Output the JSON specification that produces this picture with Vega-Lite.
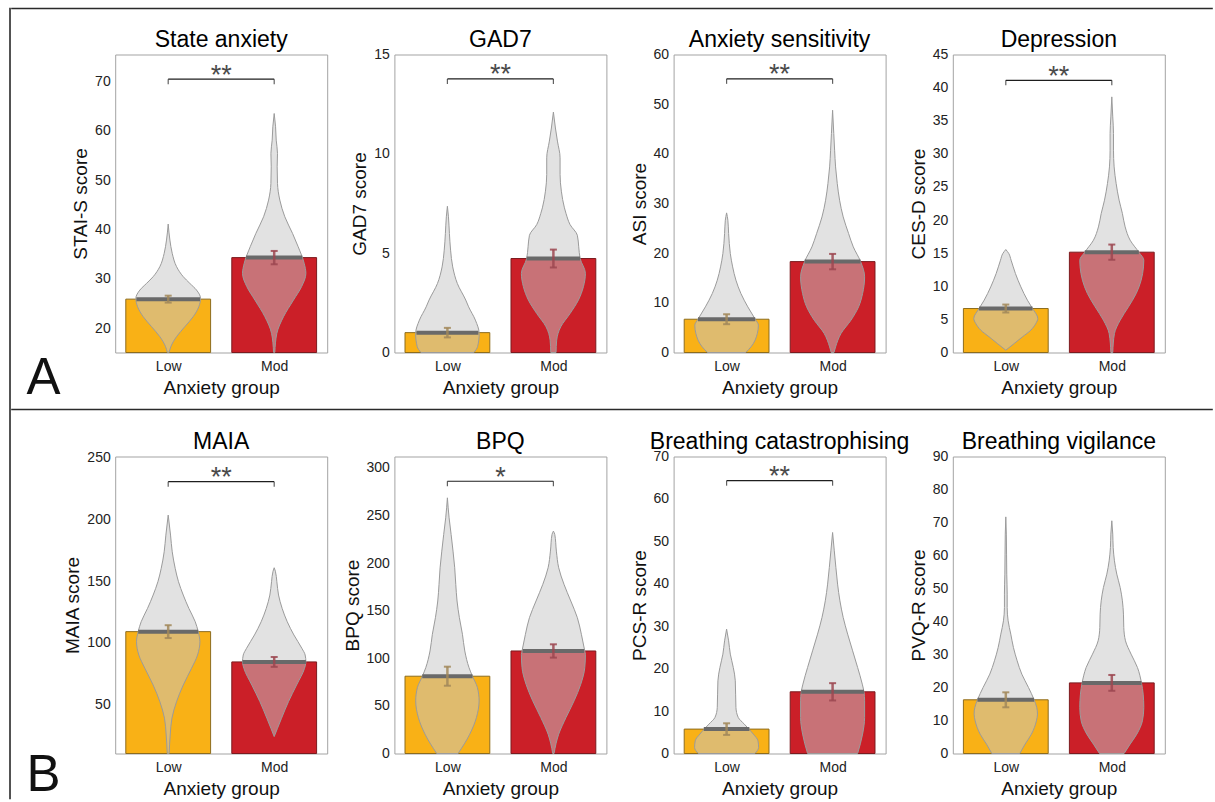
{
"$schema":"https://vega.github.io/schema/vega-lite/v6.json",
"usermeta":{"embedOptions":{"actions":false}},
"background":"white",
"padding":{"left":9,"top":7.5,"right":1,"bottom":0},
"config":{
 "font":"Liberation Sans",
 "view":{"stroke":"#a3a3a3","strokeWidth":1},
 "axis":{"domain":false,"ticks":false,"grid":false,"labelFontSize":14,"labelColor":"#222222","labelFont":"Liberation Sans","titleFont":"Liberation Sans","titleFontSize":19,"titleFontWeight":"normal","titleColor":"#111111","labelFlush":false,"labelOverlap":false},
 "axisX":{"labelPadding":7.3,"titlePadding":4.7,"labelAngle":0},
 "axisY":{"labelPadding":5,"titlePadding":4},
 "title":{"font":"Liberation Sans","fontSize":23,"fontWeight":"normal","color":"#000000","baseline":"bottom","frame":"group","anchor":"middle"}
},
"datasets":{"all":[
{"p":"State anxiety","k":"s","g":"Low","m":25.9,"se":0.7,"dw":0.3},
{"p":"State anxiety","k":"s","g":"Mod","m":34.3,"se":1.35,"dw":0.265},
{"p":"GAD7","k":"s","g":"Low","m":1.0,"se":0.24,"dw":0.292},
{"p":"GAD7","k":"s","g":"Mod","m":4.73,"se":0.45,"dw":0.252},
{"p":"Anxiety sensitivity","k":"s","g":"Low","m":6.7,"se":1.0,"dw":0.27},
{"p":"Anxiety sensitivity","k":"s","g":"Mod","m":18.3,"se":1.55,"dw":0.264},
{"p":"Depression","k":"s","g":"Low","m":6.64,"se":0.6,"dw":0.252},
{"p":"Depression","k":"s","g":"Mod","m":15.15,"se":1.15,"dw":0.255},
{"p":"MAIA","k":"s","g":"Low","m":109.1,"se":5.2,"dw":0.283},
{"p":"MAIA","k":"s","g":"Mod","m":84.6,"se":4.0,"dw":0.299},
{"p":"BPQ","k":"s","g":"Low","m":81.2,"se":10.0,"dw":0.237},
{"p":"BPQ","k":"s","g":"Mod","m":107.7,"se":7.0,"dw":0.29},
{"p":"Breathing catastrophising","k":"s","g":"Low","m":5.75,"se":1.37,"dw":0.215},
{"p":"Breathing catastrophising","k":"s","g":"Mod","m":14.54,"se":2.04,"dw":0.296},
{"p":"Breathing vigilance","k":"s","g":"Low","m":16.27,"se":2.27,"dw":0.267},
{"p":"Breathing vigilance","k":"s","g":"Mod","m":21.4,"se":2.4,"dw":0.28},
{"p":"State anxiety","k":"b","g":"Low","y":70.4,"s":"**"},
{"p":"GAD7","k":"b","g":"Low","y":13.77,"s":"**"},
{"p":"Anxiety sensitivity","k":"b","g":"Low","y":55.1,"s":"**"},
{"p":"Depression","k":"b","g":"Low","y":41.1,"s":"**"},
{"p":"MAIA","k":"b","g":"Low","y":230.4,"s":"**"},
{"p":"BPQ","k":"b","g":"Low","y":286,"s":"*"},
{"p":"Breathing catastrophising","k":"b","g":"Low","y":64.3,"s":"**"},
{"p":"State anxiety","k":"v","g":"Low","y":15.14,"w":0.009},
{"p":"State anxiety","k":"v","g":"Low","y":16.29,"w":0.025},
{"p":"State anxiety","k":"v","g":"Low","y":18.31,"w":0.079},
{"p":"State anxiety","k":"v","g":"Low","y":20.33,"w":0.157},
{"p":"State anxiety","k":"v","g":"Low","y":22.35,"w":0.236},
{"p":"State anxiety","k":"v","g":"Low","y":24.37,"w":0.289},
{"p":"State anxiety","k":"v","g":"Low","y":26.06,"w":0.305},
{"p":"State anxiety","k":"v","g":"Low","y":27.74,"w":0.267},
{"p":"State anxiety","k":"v","g":"Low","y":29.09,"w":0.204},
{"p":"State anxiety","k":"v","g":"Low","y":30.44,"w":0.142},
{"p":"State anxiety","k":"v","g":"Low","y":32.46,"w":0.079},
{"p":"State anxiety","k":"v","g":"Low","y":35.16,"w":0.038},
{"p":"State anxiety","k":"v","g":"Low","y":37.85,"w":0.016},
{"p":"State anxiety","k":"v","g":"Low","y":41.09,"w":0},
{"p":"State anxiety","k":"v","g":"Mod","y":15.14,"w":0.006},
{"p":"State anxiety","k":"v","g":"Mod","y":18.98,"w":0.025},
{"p":"State anxiety","k":"v","g":"Mod","y":22.35,"w":0.088},
{"p":"State anxiety","k":"v","g":"Mod","y":25.72,"w":0.182},
{"p":"State anxiety","k":"v","g":"Mod","y":28.42,"w":0.258},
{"p":"State anxiety","k":"v","g":"Mod","y":31.11,"w":0.299},
{"p":"State anxiety","k":"v","g":"Mod","y":33.14,"w":0.283},
{"p":"State anxiety","k":"v","g":"Mod","y":36.51,"w":0.226},
{"p":"State anxiety","k":"v","g":"Mod","y":39.2,"w":0.173},
{"p":"State anxiety","k":"v","g":"Mod","y":42.57,"w":0.1},
{"p":"State anxiety","k":"v","g":"Mod","y":45.94,"w":0.053},
{"p":"State anxiety","k":"v","g":"Mod","y":49.31,"w":0.031},
{"p":"State anxiety","k":"v","g":"Mod","y":52.68,"w":0.028},
{"p":"State anxiety","k":"v","g":"Mod","y":55.38,"w":0.031},
{"p":"State anxiety","k":"v","g":"Mod","y":58.07,"w":0.019},
{"p":"State anxiety","k":"v","g":"Mod","y":60.77,"w":0.013},
{"p":"State anxiety","k":"v","g":"Mod","y":63.46,"w":0},
{"p":"GAD7","k":"v","g":"Low","y":0,"w":0.25},
{"p":"GAD7","k":"v","g":"Low","y":0.3,"w":0.285},
{"p":"GAD7","k":"v","g":"Low","y":0.95,"w":0.3},
{"p":"GAD7","k":"v","g":"Low","y":1.63,"w":0.264},
{"p":"GAD7","k":"v","g":"Low","y":2.3,"w":0.2},
{"p":"GAD7","k":"v","g":"Low","y":2.64,"w":0.173},
{"p":"GAD7","k":"v","g":"Low","y":3.47,"w":0.094},
{"p":"GAD7","k":"v","g":"Low","y":4.31,"w":0.05},
{"p":"GAD7","k":"v","g":"Low","y":5.15,"w":0.03},
{"p":"GAD7","k":"v","g":"Low","y":5.99,"w":0.019},
{"p":"GAD7","k":"v","g":"Low","y":6.83,"w":0.01},
{"p":"GAD7","k":"v","g":"Low","y":7.36,"w":0},
{"p":"GAD7","k":"v","g":"Mod","y":0,"w":0.025},
{"p":"GAD7","k":"v","g":"Mod","y":0.62,"w":0.031},
{"p":"GAD7","k":"v","g":"Mod","y":1.29,"w":0.069},
{"p":"GAD7","k":"v","g":"Mod","y":1.96,"w":0.157},
{"p":"GAD7","k":"v","g":"Mod","y":2.64,"w":0.236},
{"p":"GAD7","k":"v","g":"Mod","y":3.31,"w":0.283},
{"p":"GAD7","k":"v","g":"Mod","y":3.98,"w":0.302},
{"p":"GAD7","k":"v","g":"Mod","y":4.73,"w":0.252},
{"p":"GAD7","k":"v","g":"Mod","y":5.32,"w":0.239},
{"p":"GAD7","k":"v","g":"Mod","y":5.9,"w":0.226},
{"p":"GAD7","k":"v","g":"Mod","y":6.44,"w":0.157},
{"p":"GAD7","k":"v","g":"Mod","y":7.0,"w":0.119},
{"p":"GAD7","k":"v","g":"Mod","y":7.28,"w":0.104},
{"p":"GAD7","k":"v","g":"Mod","y":8.12,"w":0.075},
{"p":"GAD7","k":"v","g":"Mod","y":8.96,"w":0.063},
{"p":"GAD7","k":"v","g":"Mod","y":9.8,"w":0.063},
{"p":"GAD7","k":"v","g":"Mod","y":10.64,"w":0.038},
{"p":"GAD7","k":"v","g":"Mod","y":11.3,"w":0.019},
{"p":"GAD7","k":"v","g":"Mod","y":12.1,"w":0},
{"p":"Anxiety sensitivity","k":"v","g":"Low","y":0,"w":0.18},
{"p":"Anxiety sensitivity","k":"v","g":"Low","y":1.13,"w":0.23},
{"p":"Anxiety sensitivity","k":"v","g":"Low","y":3.82,"w":0.29},
{"p":"Anxiety sensitivity","k":"v","g":"Low","y":5.5,"w":0.3},
{"p":"Anxiety sensitivity","k":"v","g":"Low","y":6.7,"w":0.27},
{"p":"Anxiety sensitivity","k":"v","g":"Low","y":9.19,"w":0.2},
{"p":"Anxiety sensitivity","k":"v","g":"Low","y":11.87,"w":0.135},
{"p":"Anxiety sensitivity","k":"v","g":"Low","y":14.56,"w":0.088},
{"p":"Anxiety sensitivity","k":"v","g":"Low","y":17.24,"w":0.057},
{"p":"Anxiety sensitivity","k":"v","g":"Low","y":19.93,"w":0.035},
{"p":"Anxiety sensitivity","k":"v","g":"Low","y":23.95,"w":0.019},
{"p":"Anxiety sensitivity","k":"v","g":"Low","y":26.64,"w":0.012},
{"p":"Anxiety sensitivity","k":"v","g":"Low","y":28.11,"w":0},
{"p":"Anxiety sensitivity","k":"v","g":"Mod","y":0,"w":0.013},
{"p":"Anxiety sensitivity","k":"v","g":"Mod","y":1.13,"w":0.028},
{"p":"Anxiety sensitivity","k":"v","g":"Mod","y":3.82,"w":0.079},
{"p":"Anxiety sensitivity","k":"v","g":"Mod","y":6.5,"w":0.173},
{"p":"Anxiety sensitivity","k":"v","g":"Mod","y":9.19,"w":0.245},
{"p":"Anxiety sensitivity","k":"v","g":"Mod","y":11.87,"w":0.283},
{"p":"Anxiety sensitivity","k":"v","g":"Mod","y":15.23,"w":0.302},
{"p":"Anxiety sensitivity","k":"v","g":"Mod","y":18.31,"w":0.264},
{"p":"Anxiety sensitivity","k":"v","g":"Mod","y":21.27,"w":0.195},
{"p":"Anxiety sensitivity","k":"v","g":"Mod","y":23.95,"w":0.151},
{"p":"Anxiety sensitivity","k":"v","g":"Mod","y":27.3,"w":0.1},
{"p":"Anxiety sensitivity","k":"v","g":"Mod","y":30.66,"w":0.066},
{"p":"Anxiety sensitivity","k":"v","g":"Mod","y":34.02,"w":0.044},
{"p":"Anxiety sensitivity","k":"v","g":"Mod","y":37.37,"w":0.028},
{"p":"Anxiety sensitivity","k":"v","g":"Mod","y":40.73,"w":0.019},
{"p":"Anxiety sensitivity","k":"v","g":"Mod","y":44.08,"w":0.011},
{"p":"Anxiety sensitivity","k":"v","g":"Mod","y":48.78,"w":0},
{"p":"Depression","k":"v","g":"Low","y":0.35,"w":0},
{"p":"Depression","k":"v","g":"Low","y":1.35,"w":0.079},
{"p":"Depression","k":"v","g":"Low","y":2.36,"w":0.157},
{"p":"Depression","k":"v","g":"Low","y":3.37,"w":0.236},
{"p":"Depression","k":"v","g":"Low","y":4.37,"w":0.283},
{"p":"Depression","k":"v","g":"Low","y":5.13,"w":0.302},
{"p":"Depression","k":"v","g":"Low","y":6.64,"w":0.252},
{"p":"Depression","k":"v","g":"Low","y":7.9,"w":0.204},
{"p":"Depression","k":"v","g":"Low","y":9.91,"w":0.142},
{"p":"Depression","k":"v","g":"Low","y":11.92,"w":0.091},
{"p":"Depression","k":"v","g":"Low","y":13.94,"w":0.05},
{"p":"Depression","k":"v","g":"Low","y":14.95,"w":0.028},
{"p":"Depression","k":"v","g":"Low","y":15.55,"w":0},
{"p":"Depression","k":"v","g":"Mod","y":0,"w":0.009},
{"p":"Depression","k":"v","g":"Mod","y":2.86,"w":0.025},
{"p":"Depression","k":"v","g":"Mod","y":4.88,"w":0.079},
{"p":"Depression","k":"v","g":"Mod","y":6.89,"w":0.157},
{"p":"Depression","k":"v","g":"Mod","y":8.9,"w":0.23},
{"p":"Depression","k":"v","g":"Mod","y":10.92,"w":0.277},
{"p":"Depression","k":"v","g":"Mod","y":12.93,"w":0.299},
{"p":"Depression","k":"v","g":"Mod","y":13.94,"w":0.302},
{"p":"Depression","k":"v","g":"Mod","y":15.15,"w":0.255},
{"p":"Depression","k":"v","g":"Mod","y":16.96,"w":0.173},
{"p":"Depression","k":"v","g":"Mod","y":18.97,"w":0.126},
{"p":"Depression","k":"v","g":"Mod","y":20.99,"w":0.1},
{"p":"Depression","k":"v","g":"Mod","y":23.0,"w":0.069},
{"p":"Depression","k":"v","g":"Mod","y":25.52,"w":0.041},
{"p":"Depression","k":"v","g":"Mod","y":28.03,"w":0.022},
{"p":"Depression","k":"v","g":"Mod","y":30.55,"w":0.016},
{"p":"Depression","k":"v","g":"Mod","y":33.07,"w":0.016},
{"p":"Depression","k":"v","g":"Mod","y":35.58,"w":0.009},
{"p":"Depression","k":"v","g":"Mod","y":38.6,"w":0},
{"p":"MAIA","k":"v","g":"Low","y":10.6,"w":0.009},
{"p":"MAIA","k":"v","g":"Low","y":25.5,"w":0.019},
{"p":"MAIA","k":"v","g":"Low","y":39,"w":0.035},
{"p":"MAIA","k":"v","g":"Low","y":52.5,"w":0.079},
{"p":"MAIA","k":"v","g":"Low","y":65.9,"w":0.142},
{"p":"MAIA","k":"v","g":"Low","y":79.4,"w":0.22},
{"p":"MAIA","k":"v","g":"Low","y":90.2,"w":0.277},
{"p":"MAIA","k":"v","g":"Low","y":101,"w":0.299},
{"p":"MAIA","k":"v","g":"Low","y":109.1,"w":0.283},
{"p":"MAIA","k":"v","g":"Low","y":117.1,"w":0.255},
{"p":"MAIA","k":"v","g":"Low","y":127.9,"w":0.195},
{"p":"MAIA","k":"v","g":"Low","y":138.7,"w":0.142},
{"p":"MAIA","k":"v","g":"Low","y":149.5,"w":0.097},
{"p":"MAIA","k":"v","g":"Low","y":160.3,"w":0.066},
{"p":"MAIA","k":"v","g":"Low","y":173.7,"w":0.038},
{"p":"MAIA","k":"v","g":"Low","y":187.2,"w":0.022},
{"p":"MAIA","k":"v","g":"Low","y":203.4,"w":0},
{"p":"MAIA","k":"v","g":"Mod","y":24.2,"w":0},
{"p":"MAIA","k":"v","g":"Mod","y":30.9,"w":0.031},
{"p":"MAIA","k":"v","g":"Mod","y":39,"w":0.069},
{"p":"MAIA","k":"v","g":"Mod","y":52.5,"w":0.135},
{"p":"MAIA","k":"v","g":"Mod","y":65.9,"w":0.211},
{"p":"MAIA","k":"v","g":"Mod","y":79.4,"w":0.286},
{"p":"MAIA","k":"v","g":"Mod","y":84.6,"w":0.299},
{"p":"MAIA","k":"v","g":"Mod","y":90.2,"w":0.292},
{"p":"MAIA","k":"v","g":"Mod","y":95.6,"w":0.261},
{"p":"MAIA","k":"v","g":"Mod","y":106.4,"w":0.186},
{"p":"MAIA","k":"v","g":"Mod","y":117.1,"w":0.123},
{"p":"MAIA","k":"v","g":"Mod","y":127.9,"w":0.075},
{"p":"MAIA","k":"v","g":"Mod","y":138.7,"w":0.041},
{"p":"MAIA","k":"v","g":"Mod","y":149.5,"w":0.025},
{"p":"MAIA","k":"v","g":"Mod","y":158,"w":0.011},
{"p":"MAIA","k":"v","g":"Mod","y":160.8,"w":0},
{"p":"BPQ","k":"v","g":"Low","y":0,"w":0.101},
{"p":"BPQ","k":"v","g":"Low","y":20.3,"w":0.211},
{"p":"BPQ","k":"v","g":"Low","y":37.8,"w":0.274},
{"p":"BPQ","k":"v","g":"Low","y":55.3,"w":0.299},
{"p":"BPQ","k":"v","g":"Low","y":69.3,"w":0.283},
{"p":"BPQ","k":"v","g":"Low","y":81.2,"w":0.236},
{"p":"BPQ","k":"v","g":"Low","y":90.2,"w":0.204},
{"p":"BPQ","k":"v","g":"Low","y":107.7,"w":0.164},
{"p":"BPQ","k":"v","g":"Low","y":125.2,"w":0.142},
{"p":"BPQ","k":"v","g":"Low","y":142.7,"w":0.113},
{"p":"BPQ","k":"v","g":"Low","y":160.2,"w":0.091},
{"p":"BPQ","k":"v","g":"Low","y":177.7,"w":0.079},
{"p":"BPQ","k":"v","g":"Low","y":195.1,"w":0.069},
{"p":"BPQ","k":"v","g":"Low","y":212.6,"w":0.053},
{"p":"BPQ","k":"v","g":"Low","y":230.1,"w":0.035},
{"p":"BPQ","k":"v","g":"Low","y":247.6,"w":0.016},
{"p":"BPQ","k":"v","g":"Low","y":268.6,"w":0},
{"p":"BPQ","k":"v","g":"Mod","y":0,"w":0.006},
{"p":"BPQ","k":"v","g":"Mod","y":20.3,"w":0.05},
{"p":"BPQ","k":"v","g":"Mod","y":37.8,"w":0.119},
{"p":"BPQ","k":"v","g":"Mod","y":55.3,"w":0.195},
{"p":"BPQ","k":"v","g":"Mod","y":72.7,"w":0.258},
{"p":"BPQ","k":"v","g":"Mod","y":90.2,"w":0.296},
{"p":"BPQ","k":"v","g":"Mod","y":104.2,"w":0.302},
{"p":"BPQ","k":"v","g":"Mod","y":107.7,"w":0.296},
{"p":"BPQ","k":"v","g":"Mod","y":125.2,"w":0.264},
{"p":"BPQ","k":"v","g":"Mod","y":142.7,"w":0.226},
{"p":"BPQ","k":"v","g":"Mod","y":160.2,"w":0.164},
{"p":"BPQ","k":"v","g":"Mod","y":177.7,"w":0.1},
{"p":"BPQ","k":"v","g":"Mod","y":195.1,"w":0.05},
{"p":"BPQ","k":"v","g":"Mod","y":212.6,"w":0.028},
{"p":"BPQ","k":"v","g":"Mod","y":230.1,"w":0.013},
{"p":"BPQ","k":"v","g":"Mod","y":233.6,"w":0},
{"p":"Breathing catastrophising","k":"v","g":"Low","y":0,"w":0.267},
{"p":"Breathing catastrophising","k":"v","g":"Low","y":1.42,"w":0.302},
{"p":"Breathing catastrophising","k":"v","g":"Low","y":2.99,"w":0.296},
{"p":"Breathing catastrophising","k":"v","g":"Low","y":4.57,"w":0.252},
{"p":"Breathing catastrophising","k":"v","g":"Low","y":5.74,"w":0.211},
{"p":"Breathing catastrophising","k":"v","g":"Low","y":6.92,"w":0.167},
{"p":"Breathing catastrophising","k":"v","g":"Low","y":8.49,"w":0.11},
{"p":"Breathing catastrophising","k":"v","g":"Low","y":10.85,"w":0.088},
{"p":"Breathing catastrophising","k":"v","g":"Low","y":13.99,"w":0.085},
{"p":"Breathing catastrophising","k":"v","g":"Low","y":17.13,"w":0.082},
{"p":"Breathing catastrophising","k":"v","g":"Low","y":20.28,"w":0.063},
{"p":"Breathing catastrophising","k":"v","g":"Low","y":23.42,"w":0.035},
{"p":"Breathing catastrophising","k":"v","g":"Low","y":26.56,"w":0.019},
{"p":"Breathing catastrophising","k":"v","g":"Low","y":29.31,"w":0},
{"p":"Breathing catastrophising","k":"v","g":"Mod","y":0,"w":0.236},
{"p":"Breathing catastrophising","k":"v","g":"Mod","y":4.57,"w":0.283},
{"p":"Breathing catastrophising","k":"v","g":"Mod","y":8.49,"w":0.302},
{"p":"Breathing catastrophising","k":"v","g":"Mod","y":12.42,"w":0.302},
{"p":"Breathing catastrophising","k":"v","g":"Mod","y":14.5,"w":0.296},
{"p":"Breathing catastrophising","k":"v","g":"Mod","y":16.35,"w":0.28},
{"p":"Breathing catastrophising","k":"v","g":"Mod","y":20.28,"w":0.236},
{"p":"Breathing catastrophising","k":"v","g":"Mod","y":24.2,"w":0.189},
{"p":"Breathing catastrophising","k":"v","g":"Mod","y":28.13,"w":0.142},
{"p":"Breathing catastrophising","k":"v","g":"Mod","y":32.06,"w":0.1},
{"p":"Breathing catastrophising","k":"v","g":"Mod","y":35.99,"w":0.069},
{"p":"Breathing catastrophising","k":"v","g":"Mod","y":39.92,"w":0.047},
{"p":"Breathing catastrophising","k":"v","g":"Mod","y":43.84,"w":0.031},
{"p":"Breathing catastrophising","k":"v","g":"Mod","y":47.77,"w":0.016},
{"p":"Breathing catastrophising","k":"v","g":"Mod","y":52.09,"w":0},
{"p":"Breathing vigilance","k":"v","g":"Low","y":0,"w":0.132},
{"p":"Breathing vigilance","k":"v","g":"Low","y":2.84,"w":0.182},
{"p":"Breathing vigilance","k":"v","g":"Low","y":5.87,"w":0.242},
{"p":"Breathing vigilance","k":"v","g":"Low","y":9.91,"w":0.289},
{"p":"Breathing vigilance","k":"v","g":"Low","y":11.93,"w":0.299},
{"p":"Breathing vigilance","k":"v","g":"Low","y":13.95,"w":0.292},
{"p":"Breathing vigilance","k":"v","g":"Low","y":16.27,"w":0.267},
{"p":"Breathing vigilance","k":"v","g":"Low","y":20.01,"w":0.214},
{"p":"Breathing vigilance","k":"v","g":"Low","y":24.05,"w":0.151},
{"p":"Breathing vigilance","k":"v","g":"Low","y":28.09,"w":0.107},
{"p":"Breathing vigilance","k":"v","g":"Low","y":32.13,"w":0.072},
{"p":"Breathing vigilance","k":"v","g":"Low","y":36.17,"w":0.047},
{"p":"Breathing vigilance","k":"v","g":"Low","y":40.21,"w":0.022},
{"p":"Breathing vigilance","k":"v","g":"Low","y":44.25,"w":0.013},
{"p":"Breathing vigilance","k":"v","g":"Low","y":48.29,"w":0.013},
{"p":"Breathing vigilance","k":"v","g":"Low","y":54.35,"w":0.009},
{"p":"Breathing vigilance","k":"v","g":"Low","y":66.48,"w":0.005},
{"p":"Breathing vigilance","k":"v","g":"Low","y":71.7,"w":0},
{"p":"Breathing vigilance","k":"v","g":"Mod","y":0,"w":0.116},
{"p":"Breathing vigilance","k":"v","g":"Mod","y":2.84,"w":0.173},
{"p":"Breathing vigilance","k":"v","g":"Mod","y":5.87,"w":0.236},
{"p":"Breathing vigilance","k":"v","g":"Mod","y":9.91,"w":0.289},
{"p":"Breathing vigilance","k":"v","g":"Mod","y":13.95,"w":0.302},
{"p":"Breathing vigilance","k":"v","g":"Mod","y":17.99,"w":0.296},
{"p":"Breathing vigilance","k":"v","g":"Mod","y":21.4,"w":0.28},
{"p":"Breathing vigilance","k":"v","g":"Mod","y":26.07,"w":0.242},
{"p":"Breathing vigilance","k":"v","g":"Mod","y":30.11,"w":0.182},
{"p":"Breathing vigilance","k":"v","g":"Mod","y":34.15,"w":0.129},
{"p":"Breathing vigilance","k":"v","g":"Mod","y":38.19,"w":0.113},
{"p":"Breathing vigilance","k":"v","g":"Mod","y":42.23,"w":0.11},
{"p":"Breathing vigilance","k":"v","g":"Mod","y":46.27,"w":0.1},
{"p":"Breathing vigilance","k":"v","g":"Mod","y":50.31,"w":0.079},
{"p":"Breathing vigilance","k":"v","g":"Mod","y":54.35,"w":0.047},
{"p":"Breathing vigilance","k":"v","g":"Mod","y":58.39,"w":0.025},
{"p":"Breathing vigilance","k":"v","g":"Mod","y":62.43,"w":0.013},
{"p":"Breathing vigilance","k":"v","g":"Mod","y":66.48,"w":0.009},
{"p":"Breathing vigilance","k":"v","g":"Mod","y":70.52,"w":0}
]},
"spacing":0,
"hconcat":[
{"width":0.01,"height":790,"data":{"values":[]},"mark":"rule","encoding":{},"view":{"stroke":"#2a2a2a","strokeWidth":1.6}},
{"spacing":0,"vconcat":[
 {"width":1200,"height":0.01,"data":{"values":[]},"mark":"rule","encoding":{},"view":{"stroke":"#2a2a2a","strokeWidth":1.6}},
 {"width":1,"height":17.7,"data":{"values":[]},"mark":"rule","encoding":{},"view":{"stroke":"transparent","fill":"transparent","strokeWidth":0}},
 {"spacing":67.2,"bounds":"flush","hconcat":[
  {"width":35.5,"height":298,"data":{"values":[]},"mark":"rule","encoding":{},"view":{"stroke":"transparent","fill":"transparent","strokeWidth":0},
   "title":{"text":"A","orient":"bottom","anchor":"start","fontSize":51,"color":"#111111","baseline":"top","offset":1.9,"dx":14.5}},
  {"width":212,"height":298,"title":{"text":"State anxiety","offset":2.8},"data":{"name":"all"},
   "transform":[{"filter":"datum.p==='State anxiety'"},{"calculate":"datum.g==='Low'?1:2","as":"c"}],
   "encoding":{
    "x":{"field":"xa","type":"quantitative","scale":{"domain":[0.5,2.5],"nice":false,"zero":false},"axis":{"values":[1,2],"labelExpr":"datum.value===1?'Low':'Mod'","title":"Anxiety group"}},
    "y":{"field":"ya","type":"quantitative","scale":{"domain":[15.1,75.4],"nice":false,"zero":false},"axis":{"values":[20,30,40,50,60,70],"title":"STAI-S score"}}},
   "layer":[
    {"transform":[{"filter":"datum.k==='s'"},{"calculate":"datum.c-0.4","as":"xa"},{"calculate":"datum.c+0.4","as":"xb"},{"calculate":"datum.m","as":"ya"}],"mark":{"type":"bar","strokeWidth":1},"encoding":{"x2":{"field":"xb"},"y2":{"datum":15.1},"fill":{"field":"g","type":"nominal","scale":{"domain":["Low","Mod"],"range":["#f9b116","#cb1f28"]},"legend":null},"stroke":{"field":"g","type":"nominal","scale":{"domain":["Low","Mod"],"range":["#8d6c1d","#7b1b1f"]},"legend":null}}},
    {"transform":[{"filter":"datum.k==='v'"},{"calculate":"datum.c-datum.w","as":"xa"},{"calculate":"datum.c+datum.w","as":"xb"},{"calculate":"datum.y","as":"ya"}],"mark":{"type":"area","orient":"horizontal","interpolate":"monotone","fill":"#c6c6c6","fillOpacity":0.5,"stroke":"#9b9b9b","strokeWidth":1},"encoding":{"x2":{"field":"xb"},"detail":{"field":"g"}}},
    {"transform":[{"filter":"datum.k==='s'"},{"calculate":"datum.c-datum.dw","as":"xa"},{"calculate":"datum.c+datum.dw","as":"xb"},{"calculate":"datum.m","as":"ya"}],"mark":{"type":"rule","stroke":"#696969","strokeWidth":4},"encoding":{"x2":{"field":"xb"}}},
    {"transform":[{"filter":"datum.k==='s'"},{"calculate":"datum.c","as":"xa"},{"calculate":"datum.m-datum.se","as":"ya"},{"calculate":"datum.m+datum.se","as":"yb"}],"mark":{"type":"rule","strokeWidth":2.5,"opacity":0.85},"encoding":{"y2":{"field":"yb"},"color":{"field":"g","type":"nominal","scale":{"domain":["Low","Mod"],"range":["#a2885a","#9c4851"]},"legend":null}}},
    {"transform":[{"filter":"datum.k==='s'"},{"calculate":"datum.c","as":"xa"},{"calculate":"datum.m-datum.se","as":"lo"},{"calculate":"datum.m+datum.se","as":"hi"},{"fold":["lo","hi"],"as":["end","ya"]}],"mark":{"type":"tick","orient":"horizontal","size":7,"thickness":2,"opacity":0.85},"encoding":{"color":{"field":"g","type":"nominal","legend":null}}},
    {"transform":[{"filter":"datum.k==='b'"},{"calculate":"1","as":"xa"},{"calculate":"2","as":"xb"},{"calculate":"datum.y","as":"ya"}],"mark":{"type":"rule","stroke":"#1e1e1e","strokeWidth":1.2},"encoding":{"x2":{"field":"xb"}}},
    {"transform":[{"filter":"datum.k==='b'"},{"calculate":"1","as":"e1"},{"calculate":"2","as":"e2"},{"fold":["e1","e2"],"as":["end","xa"]},{"calculate":"datum.y","as":"ya"}],"mark":{"type":"tick","orient":"vertical","size":5,"thickness":1.2,"color":"#1e1e1e","yOffset":2.5}},
    {"transform":[{"filter":"datum.k==='b'"},{"calculate":"1.5","as":"xa"},{"calculate":"datum.y","as":"ya"}],"mark":{"type":"text","fontSize":27,"color":"#4a4a4a","baseline":"alphabetic","dy":4.3},"encoding":{"text":{"field":"s"}}}
   ]},
  {"width":212,"height":298,"title":{"text":"GAD7","offset":-4.2},"data":{"name":"all"},
   "transform":[{"filter":"datum.p==='GAD7'"},{"calculate":"datum.g==='Low'?1:2","as":"c"}],
   "encoding":{
    "x":{"field":"xa","type":"quantitative","scale":{"domain":[0.5,2.5],"nice":false,"zero":false},"axis":{"values":[1,2],"labelExpr":"datum.value===1?'Low':'Mod'","title":"Anxiety group"}},
    "y":{"field":"ya","type":"quantitative","scale":{"domain":[0,15],"nice":false,"zero":false},"axis":{"values":[0,5,10,15],"title":"GAD7 score"}}},
   "layer":[
    {"transform":[{"filter":"datum.k==='s'"},{"calculate":"datum.c-0.4","as":"xa"},{"calculate":"datum.c+0.4","as":"xb"},{"calculate":"datum.m","as":"ya"}],"mark":{"type":"bar","strokeWidth":1},"encoding":{"x2":{"field":"xb"},"y2":{"datum":0},"fill":{"field":"g","type":"nominal","scale":{"domain":["Low","Mod"],"range":["#f9b116","#cb1f28"]},"legend":null},"stroke":{"field":"g","type":"nominal","scale":{"domain":["Low","Mod"],"range":["#8d6c1d","#7b1b1f"]},"legend":null}}},
    {"transform":[{"filter":"datum.k==='v'"},{"calculate":"datum.c-datum.w","as":"xa"},{"calculate":"datum.c+datum.w","as":"xb"},{"calculate":"datum.y","as":"ya"}],"mark":{"type":"area","orient":"horizontal","interpolate":"monotone","fill":"#c6c6c6","fillOpacity":0.5,"stroke":"#9b9b9b","strokeWidth":1},"encoding":{"x2":{"field":"xb"},"detail":{"field":"g"}}},
    {"transform":[{"filter":"datum.k==='s'"},{"calculate":"datum.c-datum.dw","as":"xa"},{"calculate":"datum.c+datum.dw","as":"xb"},{"calculate":"datum.m","as":"ya"}],"mark":{"type":"rule","stroke":"#696969","strokeWidth":4},"encoding":{"x2":{"field":"xb"}}},
    {"transform":[{"filter":"datum.k==='s'"},{"calculate":"datum.c","as":"xa"},{"calculate":"datum.m-datum.se","as":"ya"},{"calculate":"datum.m+datum.se","as":"yb"}],"mark":{"type":"rule","strokeWidth":2.5,"opacity":0.85},"encoding":{"y2":{"field":"yb"},"color":{"field":"g","type":"nominal","scale":{"domain":["Low","Mod"],"range":["#a2885a","#9c4851"]},"legend":null}}},
    {"transform":[{"filter":"datum.k==='s'"},{"calculate":"datum.c","as":"xa"},{"calculate":"datum.m-datum.se","as":"lo"},{"calculate":"datum.m+datum.se","as":"hi"},{"fold":["lo","hi"],"as":["end","ya"]}],"mark":{"type":"tick","orient":"horizontal","size":7,"thickness":2,"opacity":0.85},"encoding":{"color":{"field":"g","type":"nominal","legend":null}}},
    {"transform":[{"filter":"datum.k==='b'"},{"calculate":"1","as":"xa"},{"calculate":"2","as":"xb"},{"calculate":"datum.y","as":"ya"}],"mark":{"type":"rule","stroke":"#1e1e1e","strokeWidth":1.2},"encoding":{"x2":{"field":"xb"}}},
    {"transform":[{"filter":"datum.k==='b'"},{"calculate":"1","as":"e1"},{"calculate":"2","as":"e2"},{"fold":["e1","e2"],"as":["end","xa"]},{"calculate":"datum.y","as":"ya"}],"mark":{"type":"tick","orient":"vertical","size":5,"thickness":1.2,"color":"#1e1e1e","yOffset":2.5}},
    {"transform":[{"filter":"datum.k==='b'"},{"calculate":"1.5","as":"xa"},{"calculate":"datum.y","as":"ya"}],"mark":{"type":"text","fontSize":27,"color":"#4a4a4a","baseline":"alphabetic","dy":4.3},"encoding":{"text":{"field":"s"}}}
   ]},
  {"width":212,"height":298,"title":{"text":"Anxiety sensitivity","offset":-4.2},"data":{"name":"all"},
   "transform":[{"filter":"datum.p==='Anxiety sensitivity'"},{"calculate":"datum.g==='Low'?1:2","as":"c"}],
   "encoding":{
    "x":{"field":"xa","type":"quantitative","scale":{"domain":[0.5,2.5],"nice":false,"zero":false},"axis":{"values":[1,2],"labelExpr":"datum.value===1?'Low':'Mod'","title":"Anxiety group"}},
    "y":{"field":"ya","type":"quantitative","scale":{"domain":[0,60],"nice":false,"zero":false},"axis":{"values":[0,10,20,30,40,50,60],"title":"ASI score"}}},
   "layer":[
    {"transform":[{"filter":"datum.k==='s'"},{"calculate":"datum.c-0.4","as":"xa"},{"calculate":"datum.c+0.4","as":"xb"},{"calculate":"datum.m","as":"ya"}],"mark":{"type":"bar","strokeWidth":1},"encoding":{"x2":{"field":"xb"},"y2":{"datum":0},"fill":{"field":"g","type":"nominal","scale":{"domain":["Low","Mod"],"range":["#f9b116","#cb1f28"]},"legend":null},"stroke":{"field":"g","type":"nominal","scale":{"domain":["Low","Mod"],"range":["#8d6c1d","#7b1b1f"]},"legend":null}}},
    {"transform":[{"filter":"datum.k==='v'"},{"calculate":"datum.c-datum.w","as":"xa"},{"calculate":"datum.c+datum.w","as":"xb"},{"calculate":"datum.y","as":"ya"}],"mark":{"type":"area","orient":"horizontal","interpolate":"monotone","fill":"#c6c6c6","fillOpacity":0.5,"stroke":"#9b9b9b","strokeWidth":1},"encoding":{"x2":{"field":"xb"},"detail":{"field":"g"}}},
    {"transform":[{"filter":"datum.k==='s'"},{"calculate":"datum.c-datum.dw","as":"xa"},{"calculate":"datum.c+datum.dw","as":"xb"},{"calculate":"datum.m","as":"ya"}],"mark":{"type":"rule","stroke":"#696969","strokeWidth":4},"encoding":{"x2":{"field":"xb"}}},
    {"transform":[{"filter":"datum.k==='s'"},{"calculate":"datum.c","as":"xa"},{"calculate":"datum.m-datum.se","as":"ya"},{"calculate":"datum.m+datum.se","as":"yb"}],"mark":{"type":"rule","strokeWidth":2.5,"opacity":0.85},"encoding":{"y2":{"field":"yb"},"color":{"field":"g","type":"nominal","scale":{"domain":["Low","Mod"],"range":["#a2885a","#9c4851"]},"legend":null}}},
    {"transform":[{"filter":"datum.k==='s'"},{"calculate":"datum.c","as":"xa"},{"calculate":"datum.m-datum.se","as":"lo"},{"calculate":"datum.m+datum.se","as":"hi"},{"fold":["lo","hi"],"as":["end","ya"]}],"mark":{"type":"tick","orient":"horizontal","size":7,"thickness":2,"opacity":0.85},"encoding":{"color":{"field":"g","type":"nominal","legend":null}}},
    {"transform":[{"filter":"datum.k==='b'"},{"calculate":"1","as":"xa"},{"calculate":"2","as":"xb"},{"calculate":"datum.y","as":"ya"}],"mark":{"type":"rule","stroke":"#1e1e1e","strokeWidth":1.2},"encoding":{"x2":{"field":"xb"}}},
    {"transform":[{"filter":"datum.k==='b'"},{"calculate":"1","as":"e1"},{"calculate":"2","as":"e2"},{"fold":["e1","e2"],"as":["end","xa"]},{"calculate":"datum.y","as":"ya"}],"mark":{"type":"tick","orient":"vertical","size":5,"thickness":1.2,"color":"#1e1e1e","yOffset":2.5}},
    {"transform":[{"filter":"datum.k==='b'"},{"calculate":"1.5","as":"xa"},{"calculate":"datum.y","as":"ya"}],"mark":{"type":"text","fontSize":27,"color":"#4a4a4a","baseline":"alphabetic","dy":4.3},"encoding":{"text":{"field":"s"}}}
   ]},
  {"width":212,"height":298,"title":{"text":"Depression","offset":-4.2},"data":{"name":"all"},
   "transform":[{"filter":"datum.p==='Depression'"},{"calculate":"datum.g==='Low'?1:2","as":"c"}],
   "encoding":{
    "x":{"field":"xa","type":"quantitative","scale":{"domain":[0.5,2.5],"nice":false,"zero":false},"axis":{"values":[1,2],"labelExpr":"datum.value===1?'Low':'Mod'","title":"Anxiety group"}},
    "y":{"field":"ya","type":"quantitative","scale":{"domain":[0,45],"nice":false,"zero":false},"axis":{"values":[0,5,10,15,20,25,30,35,40,45],"title":"CES-D score"}}},
   "layer":[
    {"transform":[{"filter":"datum.k==='s'"},{"calculate":"datum.c-0.4","as":"xa"},{"calculate":"datum.c+0.4","as":"xb"},{"calculate":"datum.m","as":"ya"}],"mark":{"type":"bar","strokeWidth":1},"encoding":{"x2":{"field":"xb"},"y2":{"datum":0},"fill":{"field":"g","type":"nominal","scale":{"domain":["Low","Mod"],"range":["#f9b116","#cb1f28"]},"legend":null},"stroke":{"field":"g","type":"nominal","scale":{"domain":["Low","Mod"],"range":["#8d6c1d","#7b1b1f"]},"legend":null}}},
    {"transform":[{"filter":"datum.k==='v'"},{"calculate":"datum.c-datum.w","as":"xa"},{"calculate":"datum.c+datum.w","as":"xb"},{"calculate":"datum.y","as":"ya"}],"mark":{"type":"area","orient":"horizontal","interpolate":"monotone","fill":"#c6c6c6","fillOpacity":0.5,"stroke":"#9b9b9b","strokeWidth":1},"encoding":{"x2":{"field":"xb"},"detail":{"field":"g"}}},
    {"transform":[{"filter":"datum.k==='s'"},{"calculate":"datum.c-datum.dw","as":"xa"},{"calculate":"datum.c+datum.dw","as":"xb"},{"calculate":"datum.m","as":"ya"}],"mark":{"type":"rule","stroke":"#696969","strokeWidth":4},"encoding":{"x2":{"field":"xb"}}},
    {"transform":[{"filter":"datum.k==='s'"},{"calculate":"datum.c","as":"xa"},{"calculate":"datum.m-datum.se","as":"ya"},{"calculate":"datum.m+datum.se","as":"yb"}],"mark":{"type":"rule","strokeWidth":2.5,"opacity":0.85},"encoding":{"y2":{"field":"yb"},"color":{"field":"g","type":"nominal","scale":{"domain":["Low","Mod"],"range":["#a2885a","#9c4851"]},"legend":null}}},
    {"transform":[{"filter":"datum.k==='s'"},{"calculate":"datum.c","as":"xa"},{"calculate":"datum.m-datum.se","as":"lo"},{"calculate":"datum.m+datum.se","as":"hi"},{"fold":["lo","hi"],"as":["end","ya"]}],"mark":{"type":"tick","orient":"horizontal","size":7,"thickness":2,"opacity":0.85},"encoding":{"color":{"field":"g","type":"nominal","legend":null}}},
    {"transform":[{"filter":"datum.k==='b'"},{"calculate":"1","as":"xa"},{"calculate":"2","as":"xb"},{"calculate":"datum.y","as":"ya"}],"mark":{"type":"rule","stroke":"#1e1e1e","strokeWidth":1.2},"encoding":{"x2":{"field":"xb"}}},
    {"transform":[{"filter":"datum.k==='b'"},{"calculate":"1","as":"e1"},{"calculate":"2","as":"e2"},{"fold":["e1","e2"],"as":["end","xa"]},{"calculate":"datum.y","as":"ya"}],"mark":{"type":"tick","orient":"vertical","size":5,"thickness":1.2,"color":"#1e1e1e","yOffset":2.5}},
    {"transform":[{"filter":"datum.k==='b'"},{"calculate":"1.5","as":"xa"},{"calculate":"datum.y","as":"ya"}],"mark":{"type":"text","fontSize":27,"color":"#4a4a4a","baseline":"alphabetic","dy":4.3},"encoding":{"text":{"field":"s"}}}
   ]}
 ]},
 {"width":1,"height":3.3,"data":{"values":[]},"mark":"rule","encoding":{},"view":{"stroke":"transparent","fill":"transparent","strokeWidth":0}},
 {"width":1200,"height":0.01,"data":{"values":[]},"mark":"rule","encoding":{},"view":{"stroke":"#2a2a2a","strokeWidth":1.6}},
 {"width":1,"height":18.7,"data":{"values":[]},"mark":"rule","encoding":{},"view":{"stroke":"transparent","fill":"transparent","strokeWidth":0}},
 {"spacing":67.2,"bounds":"flush","hconcat":[
  {"width":35.5,"height":297,"data":{"values":[]},"mark":"rule","encoding":{},"view":{"stroke":"transparent","fill":"transparent","strokeWidth":0},
   "title":{"text":"B","orient":"bottom","anchor":"start","fontSize":51,"color":"#111111","baseline":"top","offset":-2.5,"dx":14.5}},
  {"width":212,"height":297,"title":{"text":"MAIA","offset":-3.2},"data":{"name":"all"},
   "transform":[{"filter":"datum.p==='MAIA'"},{"calculate":"datum.g==='Low'?1:2","as":"c"}],
   "encoding":{
    "x":{"field":"xa","type":"quantitative","scale":{"domain":[0.5,2.5],"nice":false,"zero":false},"axis":{"values":[1,2],"labelExpr":"datum.value===1?'Low':'Mod'","title":"Anxiety group"}},
    "y":{"field":"ya","type":"quantitative","scale":{"domain":[10.5,250.8],"nice":false,"zero":false},"axis":{"values":[50,100,150,200,250],"title":"MAIA score"}}},
   "layer":[
    {"transform":[{"filter":"datum.k==='s'"},{"calculate":"datum.c-0.4","as":"xa"},{"calculate":"datum.c+0.4","as":"xb"},{"calculate":"datum.m","as":"ya"}],"mark":{"type":"bar","strokeWidth":1},"encoding":{"x2":{"field":"xb"},"y2":{"datum":10.5},"fill":{"field":"g","type":"nominal","scale":{"domain":["Low","Mod"],"range":["#f9b116","#cb1f28"]},"legend":null},"stroke":{"field":"g","type":"nominal","scale":{"domain":["Low","Mod"],"range":["#8d6c1d","#7b1b1f"]},"legend":null}}},
    {"transform":[{"filter":"datum.k==='v'"},{"calculate":"datum.c-datum.w","as":"xa"},{"calculate":"datum.c+datum.w","as":"xb"},{"calculate":"datum.y","as":"ya"}],"mark":{"type":"area","orient":"horizontal","interpolate":"monotone","fill":"#c6c6c6","fillOpacity":0.5,"stroke":"#9b9b9b","strokeWidth":1},"encoding":{"x2":{"field":"xb"},"detail":{"field":"g"}}},
    {"transform":[{"filter":"datum.k==='s'"},{"calculate":"datum.c-datum.dw","as":"xa"},{"calculate":"datum.c+datum.dw","as":"xb"},{"calculate":"datum.m","as":"ya"}],"mark":{"type":"rule","stroke":"#696969","strokeWidth":4},"encoding":{"x2":{"field":"xb"}}},
    {"transform":[{"filter":"datum.k==='s'"},{"calculate":"datum.c","as":"xa"},{"calculate":"datum.m-datum.se","as":"ya"},{"calculate":"datum.m+datum.se","as":"yb"}],"mark":{"type":"rule","strokeWidth":2.5,"opacity":0.85},"encoding":{"y2":{"field":"yb"},"color":{"field":"g","type":"nominal","scale":{"domain":["Low","Mod"],"range":["#a2885a","#9c4851"]},"legend":null}}},
    {"transform":[{"filter":"datum.k==='s'"},{"calculate":"datum.c","as":"xa"},{"calculate":"datum.m-datum.se","as":"lo"},{"calculate":"datum.m+datum.se","as":"hi"},{"fold":["lo","hi"],"as":["end","ya"]}],"mark":{"type":"tick","orient":"horizontal","size":7,"thickness":2,"opacity":0.85},"encoding":{"color":{"field":"g","type":"nominal","legend":null}}},
    {"transform":[{"filter":"datum.k==='b'"},{"calculate":"1","as":"xa"},{"calculate":"2","as":"xb"},{"calculate":"datum.y","as":"ya"}],"mark":{"type":"rule","stroke":"#1e1e1e","strokeWidth":1.2},"encoding":{"x2":{"field":"xb"}}},
    {"transform":[{"filter":"datum.k==='b'"},{"calculate":"1","as":"e1"},{"calculate":"2","as":"e2"},{"fold":["e1","e2"],"as":["end","xa"]},{"calculate":"datum.y","as":"ya"}],"mark":{"type":"tick","orient":"vertical","size":5,"thickness":1.2,"color":"#1e1e1e","yOffset":2.5}},
    {"transform":[{"filter":"datum.k==='b'"},{"calculate":"1.5","as":"xa"},{"calculate":"datum.y","as":"ya"}],"mark":{"type":"text","fontSize":27,"color":"#4a4a4a","baseline":"alphabetic","dy":4.3},"encoding":{"text":{"field":"s"}}}
   ]},
  {"width":212,"height":297,"title":{"text":"BPQ","offset":2.8},"data":{"name":"all"},
   "transform":[{"filter":"datum.p==='BPQ'"},{"calculate":"datum.g==='Low'?1:2","as":"c"}],
   "encoding":{
    "x":{"field":"xa","type":"quantitative","scale":{"domain":[0.5,2.5],"nice":false,"zero":false},"axis":{"values":[1,2],"labelExpr":"datum.value===1?'Low':'Mod'","title":"Anxiety group"}},
    "y":{"field":"ya","type":"quantitative","scale":{"domain":[0,312],"nice":false,"zero":false},"axis":{"values":[0,50,100,150,200,250,300],"title":"BPQ score"}}},
   "layer":[
    {"transform":[{"filter":"datum.k==='s'"},{"calculate":"datum.c-0.4","as":"xa"},{"calculate":"datum.c+0.4","as":"xb"},{"calculate":"datum.m","as":"ya"}],"mark":{"type":"bar","strokeWidth":1},"encoding":{"x2":{"field":"xb"},"y2":{"datum":0},"fill":{"field":"g","type":"nominal","scale":{"domain":["Low","Mod"],"range":["#f9b116","#cb1f28"]},"legend":null},"stroke":{"field":"g","type":"nominal","scale":{"domain":["Low","Mod"],"range":["#8d6c1d","#7b1b1f"]},"legend":null}}},
    {"transform":[{"filter":"datum.k==='v'"},{"calculate":"datum.c-datum.w","as":"xa"},{"calculate":"datum.c+datum.w","as":"xb"},{"calculate":"datum.y","as":"ya"}],"mark":{"type":"area","orient":"horizontal","interpolate":"monotone","fill":"#c6c6c6","fillOpacity":0.5,"stroke":"#9b9b9b","strokeWidth":1},"encoding":{"x2":{"field":"xb"},"detail":{"field":"g"}}},
    {"transform":[{"filter":"datum.k==='s'"},{"calculate":"datum.c-datum.dw","as":"xa"},{"calculate":"datum.c+datum.dw","as":"xb"},{"calculate":"datum.m","as":"ya"}],"mark":{"type":"rule","stroke":"#696969","strokeWidth":4},"encoding":{"x2":{"field":"xb"}}},
    {"transform":[{"filter":"datum.k==='s'"},{"calculate":"datum.c","as":"xa"},{"calculate":"datum.m-datum.se","as":"ya"},{"calculate":"datum.m+datum.se","as":"yb"}],"mark":{"type":"rule","strokeWidth":2.5,"opacity":0.85},"encoding":{"y2":{"field":"yb"},"color":{"field":"g","type":"nominal","scale":{"domain":["Low","Mod"],"range":["#a2885a","#9c4851"]},"legend":null}}},
    {"transform":[{"filter":"datum.k==='s'"},{"calculate":"datum.c","as":"xa"},{"calculate":"datum.m-datum.se","as":"lo"},{"calculate":"datum.m+datum.se","as":"hi"},{"fold":["lo","hi"],"as":["end","ya"]}],"mark":{"type":"tick","orient":"horizontal","size":7,"thickness":2,"opacity":0.85},"encoding":{"color":{"field":"g","type":"nominal","legend":null}}},
    {"transform":[{"filter":"datum.k==='b'"},{"calculate":"1","as":"xa"},{"calculate":"2","as":"xb"},{"calculate":"datum.y","as":"ya"}],"mark":{"type":"rule","stroke":"#1e1e1e","strokeWidth":1.2},"encoding":{"x2":{"field":"xb"}}},
    {"transform":[{"filter":"datum.k==='b'"},{"calculate":"1","as":"e1"},{"calculate":"2","as":"e2"},{"fold":["e1","e2"],"as":["end","xa"]},{"calculate":"datum.y","as":"ya"}],"mark":{"type":"tick","orient":"vertical","size":5,"thickness":1.2,"color":"#1e1e1e","yOffset":2.5}},
    {"transform":[{"filter":"datum.k==='b'"},{"calculate":"1.5","as":"xa"},{"calculate":"datum.y","as":"ya"}],"mark":{"type":"text","fontSize":27,"color":"#4a4a4a","baseline":"alphabetic","dy":4.3},"encoding":{"text":{"field":"s"}}}
   ]},
  {"width":212,"height":297,"title":{"text":"Breathing catastrophising","offset":-4.2},"data":{"name":"all"},
   "transform":[{"filter":"datum.p==='Breathing catastrophising'"},{"calculate":"datum.g==='Low'?1:2","as":"c"}],
   "encoding":{
    "x":{"field":"xa","type":"quantitative","scale":{"domain":[0.5,2.5],"nice":false,"zero":false},"axis":{"values":[1,2],"labelExpr":"datum.value===1?'Low':'Mod'","title":"Anxiety group"}},
    "y":{"field":"ya","type":"quantitative","scale":{"domain":[0,70],"nice":false,"zero":false},"axis":{"values":[0,10,20,30,40,50,60,70],"title":"PCS-R score"}}},
   "layer":[
    {"transform":[{"filter":"datum.k==='s'"},{"calculate":"datum.c-0.4","as":"xa"},{"calculate":"datum.c+0.4","as":"xb"},{"calculate":"datum.m","as":"ya"}],"mark":{"type":"bar","strokeWidth":1},"encoding":{"x2":{"field":"xb"},"y2":{"datum":0},"fill":{"field":"g","type":"nominal","scale":{"domain":["Low","Mod"],"range":["#f9b116","#cb1f28"]},"legend":null},"stroke":{"field":"g","type":"nominal","scale":{"domain":["Low","Mod"],"range":["#8d6c1d","#7b1b1f"]},"legend":null}}},
    {"transform":[{"filter":"datum.k==='v'"},{"calculate":"datum.c-datum.w","as":"xa"},{"calculate":"datum.c+datum.w","as":"xb"},{"calculate":"datum.y","as":"ya"}],"mark":{"type":"area","orient":"horizontal","interpolate":"monotone","fill":"#c6c6c6","fillOpacity":0.5,"stroke":"#9b9b9b","strokeWidth":1},"encoding":{"x2":{"field":"xb"},"detail":{"field":"g"}}},
    {"transform":[{"filter":"datum.k==='s'"},{"calculate":"datum.c-datum.dw","as":"xa"},{"calculate":"datum.c+datum.dw","as":"xb"},{"calculate":"datum.m","as":"ya"}],"mark":{"type":"rule","stroke":"#696969","strokeWidth":4},"encoding":{"x2":{"field":"xb"}}},
    {"transform":[{"filter":"datum.k==='s'"},{"calculate":"datum.c","as":"xa"},{"calculate":"datum.m-datum.se","as":"ya"},{"calculate":"datum.m+datum.se","as":"yb"}],"mark":{"type":"rule","strokeWidth":2.5,"opacity":0.85},"encoding":{"y2":{"field":"yb"},"color":{"field":"g","type":"nominal","scale":{"domain":["Low","Mod"],"range":["#a2885a","#9c4851"]},"legend":null}}},
    {"transform":[{"filter":"datum.k==='s'"},{"calculate":"datum.c","as":"xa"},{"calculate":"datum.m-datum.se","as":"lo"},{"calculate":"datum.m+datum.se","as":"hi"},{"fold":["lo","hi"],"as":["end","ya"]}],"mark":{"type":"tick","orient":"horizontal","size":7,"thickness":2,"opacity":0.85},"encoding":{"color":{"field":"g","type":"nominal","legend":null}}},
    {"transform":[{"filter":"datum.k==='b'"},{"calculate":"1","as":"xa"},{"calculate":"2","as":"xb"},{"calculate":"datum.y","as":"ya"}],"mark":{"type":"rule","stroke":"#1e1e1e","strokeWidth":1.2},"encoding":{"x2":{"field":"xb"}}},
    {"transform":[{"filter":"datum.k==='b'"},{"calculate":"1","as":"e1"},{"calculate":"2","as":"e2"},{"fold":["e1","e2"],"as":["end","xa"]},{"calculate":"datum.y","as":"ya"}],"mark":{"type":"tick","orient":"vertical","size":5,"thickness":1.2,"color":"#1e1e1e","yOffset":2.5}},
    {"transform":[{"filter":"datum.k==='b'"},{"calculate":"1.5","as":"xa"},{"calculate":"datum.y","as":"ya"}],"mark":{"type":"text","fontSize":27,"color":"#4a4a4a","baseline":"alphabetic","dy":4.3},"encoding":{"text":{"field":"s"}}}
   ]},
  {"width":212,"height":297,"title":{"text":"Breathing vigilance","offset":-4.2},"data":{"name":"all"},
   "transform":[{"filter":"datum.p==='Breathing vigilance'"},{"calculate":"datum.g==='Low'?1:2","as":"c"}],
   "encoding":{
    "x":{"field":"xa","type":"quantitative","scale":{"domain":[0.5,2.5],"nice":false,"zero":false},"axis":{"values":[1,2],"labelExpr":"datum.value===1?'Low':'Mod'","title":"Anxiety group"}},
    "y":{"field":"ya","type":"quantitative","scale":{"domain":[0,90],"nice":false,"zero":false},"axis":{"values":[0,10,20,30,40,50,60,70,80,90],"title":"PVQ-R score"}}},
   "layer":[
    {"transform":[{"filter":"datum.k==='s'"},{"calculate":"datum.c-0.4","as":"xa"},{"calculate":"datum.c+0.4","as":"xb"},{"calculate":"datum.m","as":"ya"}],"mark":{"type":"bar","strokeWidth":1},"encoding":{"x2":{"field":"xb"},"y2":{"datum":0},"fill":{"field":"g","type":"nominal","scale":{"domain":["Low","Mod"],"range":["#f9b116","#cb1f28"]},"legend":null},"stroke":{"field":"g","type":"nominal","scale":{"domain":["Low","Mod"],"range":["#8d6c1d","#7b1b1f"]},"legend":null}}},
    {"transform":[{"filter":"datum.k==='v'"},{"calculate":"datum.c-datum.w","as":"xa"},{"calculate":"datum.c+datum.w","as":"xb"},{"calculate":"datum.y","as":"ya"}],"mark":{"type":"area","orient":"horizontal","interpolate":"monotone","fill":"#c6c6c6","fillOpacity":0.5,"stroke":"#9b9b9b","strokeWidth":1},"encoding":{"x2":{"field":"xb"},"detail":{"field":"g"}}},
    {"transform":[{"filter":"datum.k==='s'"},{"calculate":"datum.c-datum.dw","as":"xa"},{"calculate":"datum.c+datum.dw","as":"xb"},{"calculate":"datum.m","as":"ya"}],"mark":{"type":"rule","stroke":"#696969","strokeWidth":4},"encoding":{"x2":{"field":"xb"}}},
    {"transform":[{"filter":"datum.k==='s'"},{"calculate":"datum.c","as":"xa"},{"calculate":"datum.m-datum.se","as":"ya"},{"calculate":"datum.m+datum.se","as":"yb"}],"mark":{"type":"rule","strokeWidth":2.5,"opacity":0.85},"encoding":{"y2":{"field":"yb"},"color":{"field":"g","type":"nominal","scale":{"domain":["Low","Mod"],"range":["#a2885a","#9c4851"]},"legend":null}}},
    {"transform":[{"filter":"datum.k==='s'"},{"calculate":"datum.c","as":"xa"},{"calculate":"datum.m-datum.se","as":"lo"},{"calculate":"datum.m+datum.se","as":"hi"},{"fold":["lo","hi"],"as":["end","ya"]}],"mark":{"type":"tick","orient":"horizontal","size":7,"thickness":2,"opacity":0.85},"encoding":{"color":{"field":"g","type":"nominal","legend":null}}}
   ]}
 ]}
]}
]
}
